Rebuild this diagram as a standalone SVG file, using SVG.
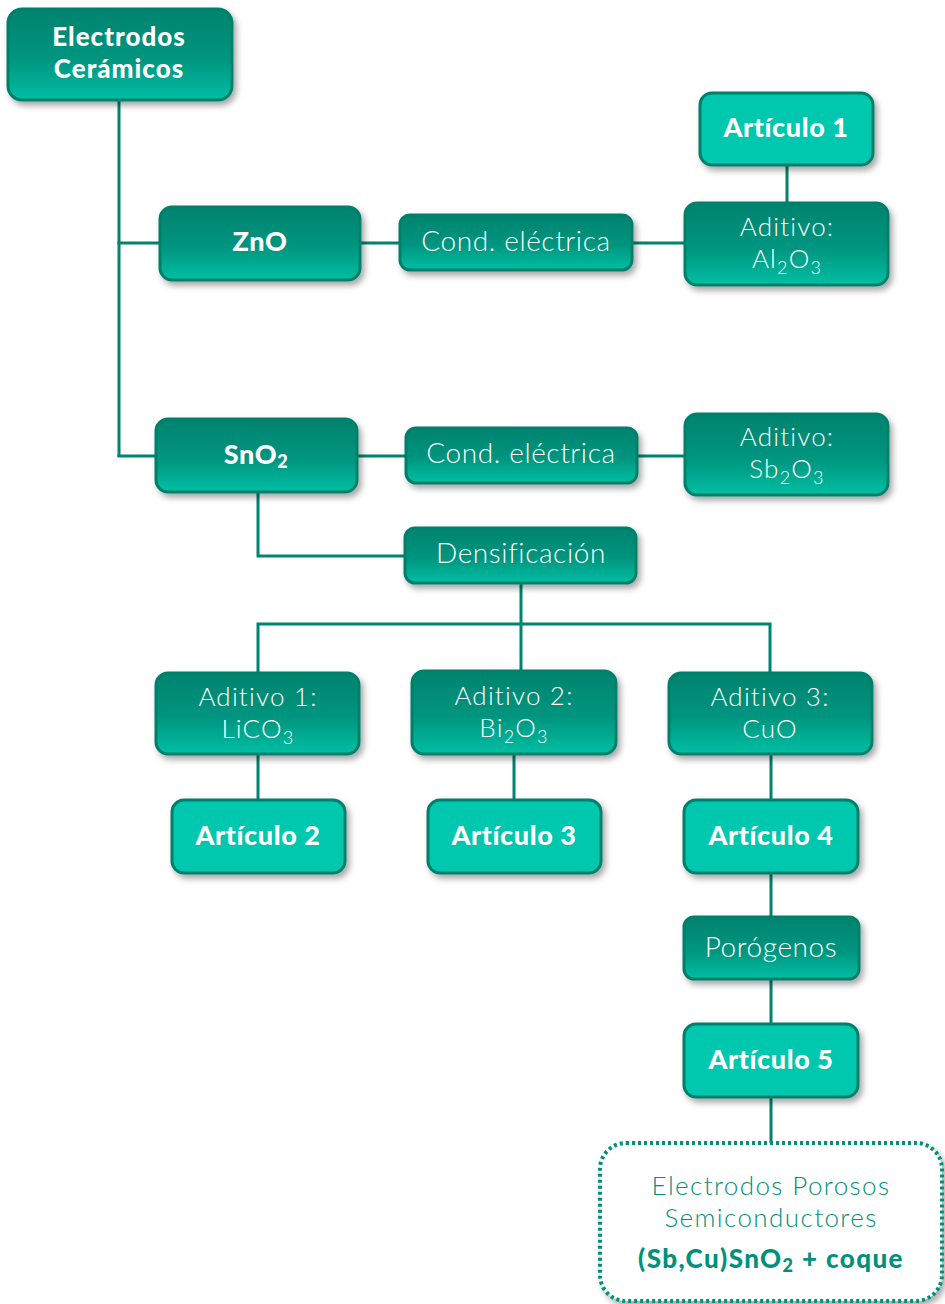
<svg xmlns="http://www.w3.org/2000/svg" width="945" height="1304" viewBox="0 0 945 1304">
<defs>
<linearGradient id="gd" x1="0" y1="0" x2="0" y2="1">
<stop offset="0" stop-color="#00836f"/>
<stop offset="0.55" stop-color="#00957f"/>
<stop offset="1" stop-color="#00bfa3"/>
</linearGradient>
<filter id="sh" x="-10%" y="-10%" width="130%" height="140%">
<feDropShadow dx="3" dy="4" stdDeviation="3" flood-color="#000" flood-opacity="0.35"/>
</filter>
</defs>
<style>
.d{fill:url(#gd);stroke:#00806b;stroke-width:3;filter:url(#sh)}
.l{fill:#00c8ae;stroke:#00806b;stroke-width:3;filter:url(#sh)}
.b{font-family:Lato,"Open Sans","Liberation Sans",sans-serif;font-weight:900;fill:#fff;text-anchor:middle;font-size:27px;letter-spacing:0.6px}
.b2{font-size:26px;letter-spacing:1px}
.t{font-family:Lato,"Open Sans","Liberation Sans",sans-serif;font-weight:300;fill:#fff;text-anchor:middle;font-size:28px;letter-spacing:0.6px}
.t2{font-size:26px;letter-spacing:1.2px}
.c line,.c polyline{stroke:#00836f;stroke-width:3;fill:none}
.s{font-size:18px}
.f{font-family:Lato,"Open Sans","Liberation Sans",sans-serif;fill:#00917c;text-anchor:middle;font-size:26px;letter-spacing:1.4px}
</style>
<rect width="945" height="1304" fill="#fff"/>
<g class="c">
<line x1="119" y1="100" x2="119" y2="457"/>
<line x1="117.5" y1="243" x2="160" y2="243"/>
<line x1="117.5" y1="456" x2="156" y2="456"/>
<line x1="360" y1="243" x2="400" y2="243"/>
<line x1="632" y1="243" x2="685" y2="243"/>
<line x1="787" y1="165" x2="787" y2="203"/>
<line x1="357" y1="456" x2="406" y2="456"/>
<line x1="637" y1="456" x2="685" y2="456"/>
<polyline points="258,492 258,556 405,556"/>
<line x1="521" y1="583" x2="521" y2="671"/>
<polyline points="258,673 258,624 770,624 770,673"/>
<line x1="258" y1="754" x2="258" y2="800"/>
<line x1="514" y1="754" x2="514" y2="800"/>
<line x1="771" y1="754" x2="771" y2="800"/>
<line x1="771" y1="873" x2="771" y2="917"/>
<line x1="771" y1="979" x2="771" y2="1024"/>
<line x1="771" y1="1097" x2="771" y2="1143"/>
</g>
<g id="electrodos-ceramicos">
<rect class="d" x="8" y="9" width="224" height="91" rx="14"/>
<text class="b b2" x="119" y="46">Electrodos<tspan x="119" y="78">Cerámicos</tspan></text>
</g>
<g id="zno">
<rect class="d" x="160" y="207" width="200" height="73" rx="12"/>
<text class="b" x="260" y="251">ZnO</text>
</g>
<g id="cond1">
<rect class="d" x="400" y="215" width="232" height="55" rx="10"/>
<text class="t" x="516" y="251">Cond. eléctrica</text>
</g>
<g id="articulo1">
<rect class="l" x="700" y="93" width="173" height="72" rx="12"/>
<text class="b" x="786" y="137">Artículo 1</text>
</g>
<g id="aditivo-al2o3">
<rect class="d" x="685" y="203" width="203" height="82" rx="12"/>
<text class="t t2" x="787" y="236">Aditivo:<tspan x="787" y="268">Al</tspan><tspan class="s" dy="6">2</tspan><tspan dy="-6">O</tspan><tspan class="s" dy="6">3</tspan></text>
</g>
<g id="sno2">
<rect class="d" x="156" y="419" width="201" height="73" rx="12"/>
<text class="b" x="256" y="464">SnO<tspan class="s" dy="4">2</tspan></text>
</g>
<g id="cond2">
<rect class="d" x="406" y="428" width="231" height="55" rx="10"/>
<text class="t" x="521" y="463">Cond. eléctrica</text>
</g>
<g id="aditivo-sb2o3">
<rect class="d" x="685" y="414" width="203" height="81" rx="12"/>
<text class="t t2" x="787" y="446">Aditivo:<tspan x="787" y="478">Sb</tspan><tspan class="s" dy="6">2</tspan><tspan dy="-6">O</tspan><tspan class="s" dy="6">3</tspan></text>
</g>
<g id="densificacion">
<rect class="d" x="405" y="528" width="231" height="55" rx="10"/>
<text class="t" x="521" y="563">Densificación</text>
</g>
<g id="aditivo1">
<rect class="d" x="156" y="673" width="203" height="81" rx="12"/>
<text class="t t2" x="258" y="706">Aditivo 1:<tspan x="258" y="738">LiCO</tspan><tspan class="s" dy="6">3</tspan></text>
</g>
<g id="aditivo2">
<rect class="d" x="412" y="671" width="204" height="83" rx="12"/>
<text class="t t2" x="514" y="705">Aditivo 2:<tspan x="514" y="737">Bi</tspan><tspan class="s" dy="6">2</tspan><tspan dy="-6">O</tspan><tspan class="s" dy="6">3</tspan></text>
</g>
<g id="aditivo3">
<rect class="d" x="669" y="673" width="203" height="81" rx="12"/>
<text class="t t2" x="770" y="706">Aditivo 3:<tspan x="770" y="738">CuO</tspan></text>
</g>
<g id="articulo2">
<rect class="l" x="172" y="800" width="173" height="73" rx="12"/>
<text class="b" x="258" y="845">Artículo 2</text>
</g>
<g id="articulo3">
<rect class="l" x="428" y="800" width="173" height="73" rx="12"/>
<text class="b" x="514" y="845">Artículo 3</text>
</g>
<g id="articulo4">
<rect class="l" x="684" y="800" width="174" height="73" rx="12"/>
<text class="b" x="771" y="845">Artículo 4</text>
</g>
<g id="porogenos">
<rect class="d" x="684" y="917" width="175" height="62" rx="10"/>
<text class="t" x="771" y="957">Porógenos</text>
</g>
<g id="articulo5">
<rect class="l" x="684" y="1024" width="174" height="73" rx="12"/>
<text class="b" x="771" y="1069">Artículo 5</text>
</g>
<g id="electrodos-porosos">
<rect x="600" y="1143" width="342" height="158" rx="26" fill="#fff" stroke="#00917c" stroke-width="4" stroke-dasharray="3 3" filter="url(#sh)"/>
<text class="f" x="771" y="1195" font-weight="300">Electrodos Porosos<tspan x="771" y="1227">Semiconductores</tspan></text>
<text class="f" x="771" y="1268" font-weight="900" font-size="27" letter-spacing="0.8">(Sb,Cu)SnO<tspan class="s" dy="4">2</tspan><tspan dy="-4"> + coque</tspan></text>
</g>
</svg>
